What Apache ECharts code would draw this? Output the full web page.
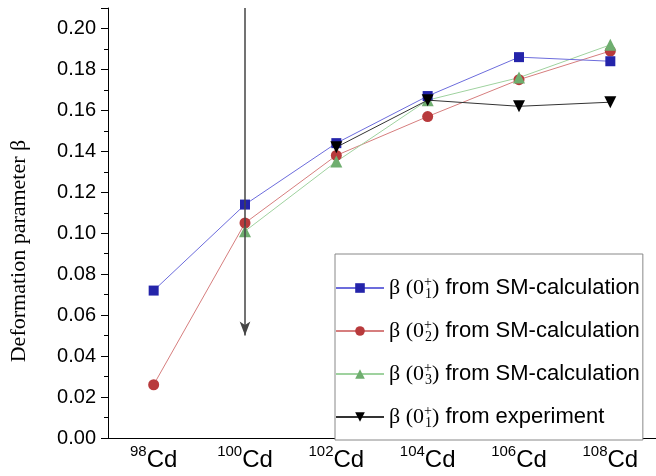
<!DOCTYPE html>
<html>
<head>
<meta charset="utf-8">
<script src="https://cdn.jsdelivr.net/npm/echarts@6/dist/echarts.min.js"></script>
<style>
  html, body { margin: 0; padding: 0; background: #fff; }
  #main { width: 656px; height: 476px; }
</style>
</head>
<body>
<div id="main"></div>
<script>
var isotopes = ['98', '100', '102', '104', '106', '108'];
var smState1 = [0.072, 0.114, 0.144, 0.167, 0.186, 0.184];
var smState2 = [0.026, 0.105, 0.138, 0.157, 0.175, 0.189];
var smState3 = [null, 0.101, 0.135, 0.165, 0.176, 0.192];
var experiment = [null, null, 0.142, 0.165, 0.162, 0.164];
// 100Cd: only a limit, drawn as an arrow from the top of the axis down
var expArrow100 = [0.21, 0.05];
var yTicks = { min: 0, max: 0.21, step: 0.02 };

var legendText = {
  s1: '{g|β (0}{sup|+}{sub|1}{g|)} from SM-calculation',
  s2: '{g|β (0}{sup|+}{sub|2}{g|)} from SM-calculation',
  s3: '{g|β (0}{sup|+}{sub|3}{g|)} from SM-calculation',
  ex: '{g|β (0}{sup|+}{sub|1}{g|)} from experiment'
};

var myChart = echarts.init(document.getElementById('main'));
myChart.setOption({
  animation: false,
  grid: { left: 106, top: 8, bottom: 38, right: -5, containLabel: false },
  legend: {
    orient: 'vertical',
    left: 335,
    top: 254,
    padding: [21, 3, 10, 0],
    itemGap: 17,
    itemWidth: 48,
    itemHeight: 12,
    borderColor: '#888',
    borderWidth: 1,
    backgroundColor: '#fff',
    formatter: function (name) { return legendText[name]; },
    textStyle: {
      fontFamily: 'Liberation Sans',
      fontSize: 22,
      color: '#000',
      lineHeight: 26,
      rich: {
        g: { fontFamily: 'Liberation Serif', fontSize: 22, lineHeight: 26 },
        sup: { fontFamily: 'Liberation Serif', fontSize: 14, lineHeight: 26, width: 1, verticalAlign: 'top', padding: [0, 0, 6, 0] },
        sub: { fontFamily: 'Liberation Serif', fontSize: 14, lineHeight: 26, verticalAlign: 'bottom', padding: [12, 0, 0, 0] }
      }
    },
    data: ['s1', 's2', 's3', 'ex']
  },
  xAxis: {
    type: 'category',
    data: isotopes,
    boundaryGap: true,
    axisLine: { lineStyle: { color: '#000', width: 1 } },
    axisTick: { alignWithLabel: true, length: 7, lineStyle: { color: '#000' } },
    axisLabel: {
      interval: 0,
      margin: 6,
      formatter: function (v) { return '{m|' + v + '}{cd|Cd}'; },
      rich: {
        m: { fontFamily: 'Liberation Sans', fontSize: 15, color: '#000', verticalAlign: 'top', lineHeight: 28 },
        cd: { fontFamily: 'Liberation Sans', fontSize: 24, color: '#000', verticalAlign: 'bottom', lineHeight: 28, padding: [8, 0, 0, 0] }
      }
    }
  },
  yAxis: {
    type: 'value',
    min: yTicks.min,
    max: yTicks.max,
    interval: yTicks.step,
    name: 'Deformation parameter β',
    nameLocation: 'middle',
    nameGap: 78,
    nameTextStyle: { fontFamily: 'Liberation Serif', fontSize: 22, color: '#000', padding: [0, 56, 0, 0] },
    axisLine: { show: true, lineStyle: { color: '#000', width: 1 } },
    axisTick: { show: true, length: 7, lineStyle: { color: '#000' } },
    minorTick: { show: true, splitNumber: 2, length: 4, lineStyle: { color: '#000' } },
    splitLine: { show: false },
    axisLabel: {
      showMaxLabel: false,
      margin: 12,
      fontFamily: 'Liberation Sans',
      fontSize: 20,
      color: '#000',
      formatter: function (v) { return v.toFixed(2); }
    }
  },
  series: [
    {
      name: 's1', type: 'line', data: smState1,
      symbol: 'rect', symbolSize: 10,
      itemStyle: { color: '#2424aa' },
      lineStyle: { color: '#6c6cdc', width: 1 },
      z: 4
    },
    {
      name: 's2', type: 'line', data: smState2,
      symbol: 'circle', symbolSize: 11,
      itemStyle: { color: '#b83a3c' },
      lineStyle: { color: '#d67e7e', width: 1 },
      z: 3
    },
    {
      name: 's3', type: 'line', data: smState3,
      symbol: 'triangle', symbolSize: 12,
      itemStyle: { color: '#6fae6f' },
      lineStyle: { color: '#9fd29f', width: 1 },
      z: 3
    },
    {
      name: 'ex', type: 'line', data: experiment,
      symbol: 'triangle', symbolRotate: 180, symbolSize: 12,
      itemStyle: { color: '#000' },
      lineStyle: { color: '#333', width: 1 },
      z: 5,
      markLine: {
        silent: true,
        symbol: ['none', 'arrow'],
        symbolSize: [8, 14],
        label: { show: false },
        lineStyle: { color: '#444', width: 1.5, type: 'solid' },
        data: [[
          { coord: ['100', expArrow100[0]] },
          { coord: ['100', expArrow100[1]] }
        ]]
      }
    }
  ]
});
</script>
</body>
</html>
